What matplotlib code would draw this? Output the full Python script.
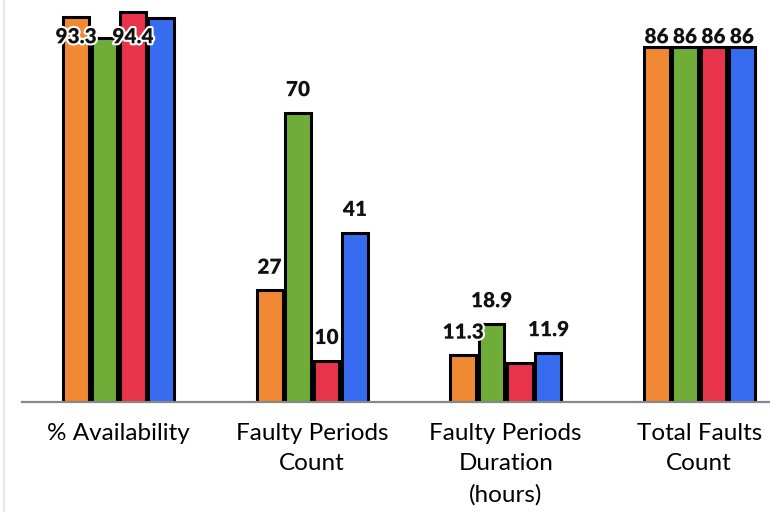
import matplotlib.pyplot as plt
import matplotlib.patheffects as pe
import numpy as np

# data
categories = ["% Availability", "Faulty Periods\nCount", "Faulty Periods\nDuration\n(hours)", "Total Faults\nCount"]
series_a = [93.3, 27, 11.3, 86]
series_b = [88.2, 70, 18.9, 86]
series_c = [94.4, 10, 9.5, 86]
series_d = [93.0, 41, 11.9, 86]
# labels hidden in the original (overlap) are None
labels_a = ["93.3", "27", "11.3", "86"]
labels_b = [None, "70", "18.9", "86"]
labels_c = ["94.4", "10", None, "86"]
labels_d = [None, "41", "11.9", "86"]

colors = ["#F08834", "#6FAD38", "#E8344A", "#386CF0"]
all_series = [series_a, series_b, series_c, series_d]
all_labels = [labels_a, labels_b, labels_c, labels_d]

plt.rcParams['font.family'] = ['Lato', 'DejaVu Sans']

fig = plt.figure(figsize=(7.7, 5.12), dpi=100)
# axes spans x 22..796 px (cropped on the right), y baseline at 402 px
ax = fig.add_axes([22 / 770, (512 - 402) / 512, 748 / 770, 402 / 512])

x = np.arange(len(categories))
pitch = 0.147
width = 0.134
offsets = (np.arange(4) - 1.5) * pitch

for i, (vals, labs) in enumerate(zip(all_series, all_labels)):
    ax.bar(x + offsets[i], vals, width, color=colors[i], edgecolor='black', linewidth=2.2, zorder=2)
    for xi, v, lab in zip(x, vals, labs):
        if lab is None:
            continue
        y = min(v + 5.6, 88.4)
        ax.text(xi + offsets[i], y, lab, ha='center', va='center', fontsize=15, fontweight='heavy',
                color='#111111', zorder=5,
                path_effects=[pe.withStroke(linewidth=3, foreground='white')])

ax.set_ylim(0, 97.3)
ax.set_xlim(-0.5, 3.5 - 26 / 193.5)
ax.set_xticks(x)
ax.set_xticklabels(categories, fontsize=17.5, linespacing=1.55)
ax.tick_params(axis='x', length=0, pad=15)
ax.set_yticks([])
for s in ['top', 'right', 'left']:
    ax.spines[s].set_visible(False)
ax.spines['bottom'].set_color('#888888')
ax.spines['bottom'].set_linewidth(1.6)

# thin gray line at the left edge
fig.add_artist(plt.Line2D([4 / 770, 4 / 770], [0, 1], color='#e6e6e6', linewidth=1.5))

fig.savefig("out.png", dpi=100)
